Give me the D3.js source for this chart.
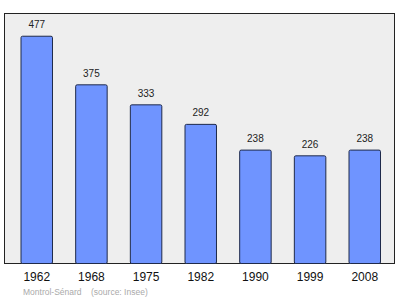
<!DOCTYPE html>
<html>
<head>
<meta charset="utf-8">
<script src="https://cdn.jsdelivr.net/npm/d3@7"></script>
<style>
  body { margin: 0; background: #fff; }
  svg { display: block; font-family: "Liberation Sans", Arial, sans-serif; }
</style>
</head>
<body>
<svg id="chart" width="400" height="299"></svg>
<script>
// population by census year
const years  = ['1962', '1968', '1975', '1982', '1990', '1999', '2008'];
const values = [477, 375, 333, 292, 238, 226, 238];
const caption = 'Montrol-Sénard    (source: Insee)';

const frame = { left: 4.5, top: 13.5, right: 394.5, bottom: 263.5 };

const svg = d3.select('#chart');

const x = d3.scaleBand()
  .domain(years)
  .range([21, 380.5])
  .paddingInner(0.424)
  .paddingOuter(0);

const y = d3.scaleLinear()
  .domain([0, d3.max(values) * 1.1])
  .range([frame.bottom, frame.top]);

// plot background
svg.append('rect')
  .attr('x', frame.left).attr('y', frame.top)
  .attr('width', frame.right - frame.left).attr('height', frame.bottom - frame.top)
  .attr('fill', '#eeeeee').attr('stroke', '#222').attr('stroke-width', 1);

const data = years.map((yr, i) => ({ yr, v: values[i] }));

svg.append('g').selectAll('rect')
  .data(data).join('rect')
  .attr('x', d => x(d.yr))
  .attr('y', d => y(d.v))
  .attr('width', x.bandwidth())
  .attr('height', d => y(0) - y(d.v))
  .attr('rx', 1.5)
  .attr('fill', '#6f94ff')
  .attr('stroke', '#1f2a4a').attr('stroke-width', 1);

svg.append('g').selectAll('text')
  .data(data).join('text')
  .attr('x', d => x(d.yr) + x.bandwidth() / 2)
  .attr('y', d => y(d.v) - 8)
  .attr('text-anchor', 'middle')
  .attr('font-size', 10).attr('fill', '#222')
  .text(d => d.v);

// year axis, no line or ticks
const ax = svg.append('g')
  .attr('transform', `translate(0,${frame.bottom})`)
  .call(d3.axisBottom(x).tickSize(0).tickPadding(9));
ax.select('.domain').remove();
ax.selectAll('text').attr('font-size', 12).attr('fill', '#111')
  .attr('font-family', '"Liberation Sans", Arial, sans-serif');

svg.append('text')
  .attr('x', 23).attr('y', 295)
  .attr('font-size', 8.5).attr('fill', '#aaa')
  .attr('xml:space', 'preserve')
  .style('white-space', 'pre')
  .text(caption);
</script>
</body>
</html>
